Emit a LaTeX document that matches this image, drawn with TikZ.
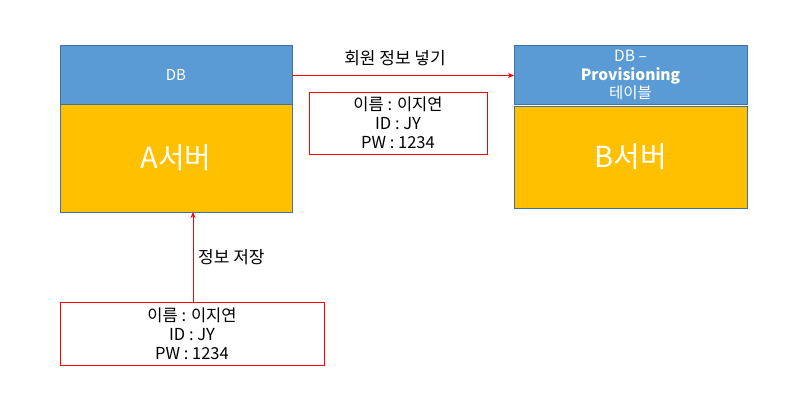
\documentclass[tikz,border=0pt]{standalone}
\usepackage{fontspec}
\setmainfont{Noto Sans CJK KR}
\usetikzlibrary{arrows.meta}
\definecolor{dbblue}{HTML}{5B9BD5}
\definecolor{srvorange}{HTML}{FFC000}
\definecolor{boxedge}{HTML}{41719C}
\definecolor{redline}{HTML}{FF0000}
\tikzset{
  box/.style={draw=boxedge,line width=1pt,anchor=north west,inner sep=0pt,outer sep=0pt,text=white,align=center},
  infobox/.style={draw=redline,line width=1pt,anchor=north west,inner sep=0pt,outer sep=0pt,align=center,font=\fontsize{16.5}{19}\selectfont},
  conn/.style={draw=redline,line width=1pt,-{Stealth[length=6pt,width=5pt]}},
  lbl/.style={font=\fontsize{17}{19}\selectfont,inner sep=0pt}
}
\begin{document}
\begin{tikzpicture}[x=1pt,y=-1pt]
\useasboundingbox[fill=white] (0,0) rectangle (787,420);
% A server
\node[box,fill=dbblue,minimum width=232pt,minimum height=58pt,font=\fontsize{15}{19}\selectfont] (adb) at (60,46) {DB};
\node[box,fill=srvorange,minimum width=232pt,minimum height=108pt,font=\fontsize{29}{32}\selectfont] (asrv) at (60,104) {A서버};
% B server
\node[box,fill=dbblue,minimum width=233pt,minimum height=58pt,font=\fontsize{15.5}{18.5}\selectfont] (bdb) at (514,46) {DB –\\\textbf{Provisioning}\\테이블};
\node[box,fill=srvorange,minimum width=233pt,minimum height=102pt,font=\fontsize{29}{32}\selectfont] (bsrv) at (514,106) {B서버};
% info boxes
\node[infobox,minimum width=178pt,minimum height=62pt] (info1) at (309,92) {이름 : 이지연\\ID : JY\\PW : 1234};
\node[infobox,minimum width=264pt,minimum height=63pt] (info2) at (60,302) {이름 : 이지연\\ID : JY\\PW : 1234};
% connectors
\coordinate (c1s) at (292,75.5);
\coordinate (c1e) at (514,75.5);
\draw[conn] (c1s) -- (c1e);
\node[lbl] (l1) at (395,58) {회원 정보 넣기};
\coordinate (c2s) at (193,302);
\coordinate (c2e) at (193,212);
\draw[conn] (c2s) -- (c2e);
\node[lbl,anchor=west] (l2) at (198,257) {정보 저장};
\end{tikzpicture}
\end{document}
